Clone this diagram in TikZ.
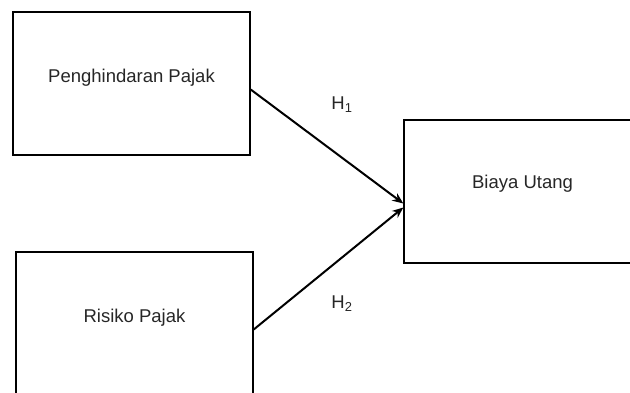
\documentclass[tikz,border=0pt]{standalone}
\usepackage{fontspec}
\setmainfont{Liberation Sans}
\usetikzlibrary{arrows.meta}
\begin{document}
\begin{tikzpicture}[x=1pt,y=-1pt,
  varbox/.style={draw=black, line width=1.4pt, minimum width=237pt, minimum height=143pt, inner sep=0pt},
  boxtext/.style={font=\fontsize{18.5}{22}\selectfont, text=black!85, yshift=6pt},
  conn/.style={line width=2pt, -{Stealth[length=11pt,width=9pt]}},
  hlab/.style={font=\fontsize{18.5}{22}\selectfont, text=black!85}]
\useasboundingbox (0,0) rectangle (630,392);
\clip (0,0) rectangle (630,392);
\node[varbox, label={[boxtext]center:Penghindaran Pajak}] (a) at (131.5,83.5) {};
\node[varbox, label={[boxtext]center:Risiko Pajak}] (b) at (134.5,323.5) {};
\node[varbox, label={[boxtext, yshift=2pt]center:Biaya Utang}] (c) at (522.5,191.5) {};
\draw[conn] ([yshift=-6pt]a.east) -- ([yshift=-12pt]c.west);
\draw[conn] ([yshift=-6pt]b.east) -- ([yshift=-16pt]c.west);
\node[hlab] (h1) at (342,105) {H\textsubscript{1}};
\node[hlab] (h2) at (342,304) {H\textsubscript{2}};
\end{tikzpicture}
\end{document}
